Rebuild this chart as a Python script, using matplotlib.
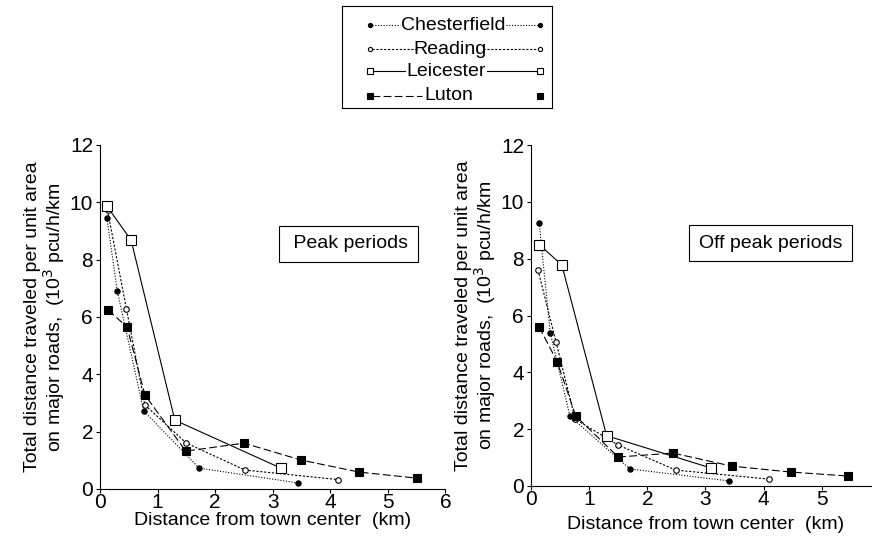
#!/usr/bin/env python3
import matplotlib
matplotlib.use('Agg')
import matplotlib.pyplot as plt
from matplotlib.lines import Line2D

plt.rcParams['font.family'] = ['Liberation Sans', 'DejaVu Sans']
plt.rcParams['font.size'] = 14

# distance from town center (km) and traffic density (10^3 pcu/h/km), peak periods
peak_chesterfield_x = [0.12, 0.30, 0.76, 1.72, 3.44]
peak_chesterfield_y = [9.45, 6.9, 2.72, 0.73, 0.21]
peak_reading_x = [0.13, 0.46, 0.78, 1.50, 2.52, 4.13]
peak_reading_y = [9.72, 6.27, 2.93, 1.60, 0.66, 0.33]
peak_leicester_x = [0.12, 0.54, 1.30, 3.14]
peak_leicester_y = [9.86, 8.68, 2.40, 0.73]
peak_luton_x = [0.14, 0.47, 0.78, 1.49, 2.50, 3.49, 4.50, 5.50]
peak_luton_y = [6.24, 5.65, 3.28, 1.32, 1.60, 1.01, 0.59, 0.38]

# off peak periods
off_chesterfield_x = [0.14, 0.33, 0.67, 1.70, 3.40]
off_chesterfield_y = [9.26, 5.39, 2.45, 0.60, 0.18]
off_reading_x = [0.12, 0.43, 0.76, 1.50, 2.49, 4.10]
off_reading_y = [7.60, 5.07, 2.35, 1.44, 0.56, 0.24]
off_leicester_x = [0.14, 0.53, 1.30, 3.10]
off_leicester_y = [8.50, 7.78, 1.77, 0.63]
off_luton_x = [0.14, 0.45, 0.77, 1.50, 2.44, 3.45, 4.47, 5.46]
off_luton_y = [5.60, 4.37, 2.46, 1.02, 1.16, 0.70, 0.49, 0.35]

towns = ['Chesterfield', 'Reading', 'Leicester', 'Luton']
styles = {
    'Chesterfield': dict(ls=(0, (1, 1.5)), marker='o', ms=3.8, mfc='black', lms=3),
    'Reading': dict(ls=(0, (2, 1.5)), marker='o', ms=4, mfc='white', lms=3),
    'Leicester': dict(ls='-', marker='s', ms=7, mfc='white', lms=4),
    'Luton': dict(ls=(0, (7, 3)), marker='s', ms=5.8, mfc='black', lms=5),
}

peak = {
    'Chesterfield': (peak_chesterfield_x, peak_chesterfield_y),
    'Reading': (peak_reading_x, peak_reading_y),
    'Leicester': (peak_leicester_x, peak_leicester_y),
    'Luton': (peak_luton_x, peak_luton_y),
}
offpeak = {
    'Chesterfield': (off_chesterfield_x, off_chesterfield_y),
    'Reading': (off_reading_x, off_reading_y),
    'Leicester': (off_leicester_x, off_leicester_y),
    'Luton': (off_luton_x, off_luton_y),
}

fig = plt.figure(figsize=(8.72, 5.36), dpi=100)
ax1 = fig.add_axes([0.1147, 0.0877, 0.396, 0.642])
ax2 = fig.add_axes([0.609, 0.0933, 0.400, 0.636])

ylabel = 'Total distance traveled per unit area\non major roads,  (10$^3$ pcu/h/km'

panels = [(ax1, peak, ' Peak periods', 0), (ax2, offpeak, 'Off peak periods', 5)]
for ax, data, title, xpad in panels:
    for t in towns:
        x, y = data[t]
        st = styles[t]
        ax.plot(x, y, color='black', lw=0.8, ls=st['ls'], marker=st['marker'],
                ms=st['ms'], mfc=st['mfc'], mec='black', mew=0.8)
    ax.set_xlim(0, 6)
    ax.set_ylim(0, 12)
    ax.set_xticks(range(0, 7))
    ax.set_yticks(range(0, 13, 2))
    ax.spines['top'].set_visible(False)
    ax.spines['right'].set_visible(False)
    ax.spines['left'].set_linewidth(0.8)
    ax.spines['bottom'].set_linewidth(0.8)
    ax.tick_params(direction='out', length=3, width=0.8, labelsize=15, pad=2)
    ax.tick_params(axis='x', pad=0)
    ax.set_xlabel('Distance from town center  (km)', fontsize=14, labelpad=xpad)
    ax.set_ylabel(ylabel, fontsize=14, labelpad=2, linespacing=1.0)
    ax.text(0.893, 0.712, title, transform=ax.transAxes, ha='right', va='center',
            fontsize=14,
            bbox=dict(boxstyle='square,pad=0.5', fc='white', ec='black', lw=0.8))
    ax.patch.set_alpha(0)

# legend box at top centre
lg = fig.add_axes([342 / 872, 1 - 108 / 536, 210 / 872, 102 / 536])
lg.set_xlim(0, 210)
lg.set_ylim(102, 0)
lg.set_xticks([])
lg.set_yticks([])
for s in lg.spines.values():
    s.set_linewidth(0.8)

# per row: text span (left, right) in legend pixels, row y
rows = {
    'Chesterfield': ((60, 162), 19),
    'Reading': ((77, 139), 43),
    'Leicester': ((65, 143), 65),
    'Luton': ((82, 132), 90),
}
for t in towns:
    (tl, tr), yy = rows[t]
    st = styles[t]
    lg.text((tl + tr) / 2, yy, t, ha='center', va='center', fontsize=14)
    lg.add_line(Line2D([30, tl - 2], [yy, yy], color='black', lw=0.8, ls=st['ls']))
    if t != 'Luton':
        lg.add_line(Line2D([tr + 2, 196], [yy, yy], color='black', lw=0.8, ls=st['ls']))
    lg.plot([28, 198], [yy, yy], ls='none', marker=st['marker'], ms=st['lms'],
            mfc=st['mfc'], mec='black', mew=0.8, color='black')

fig.savefig('out.png', dpi=100)
